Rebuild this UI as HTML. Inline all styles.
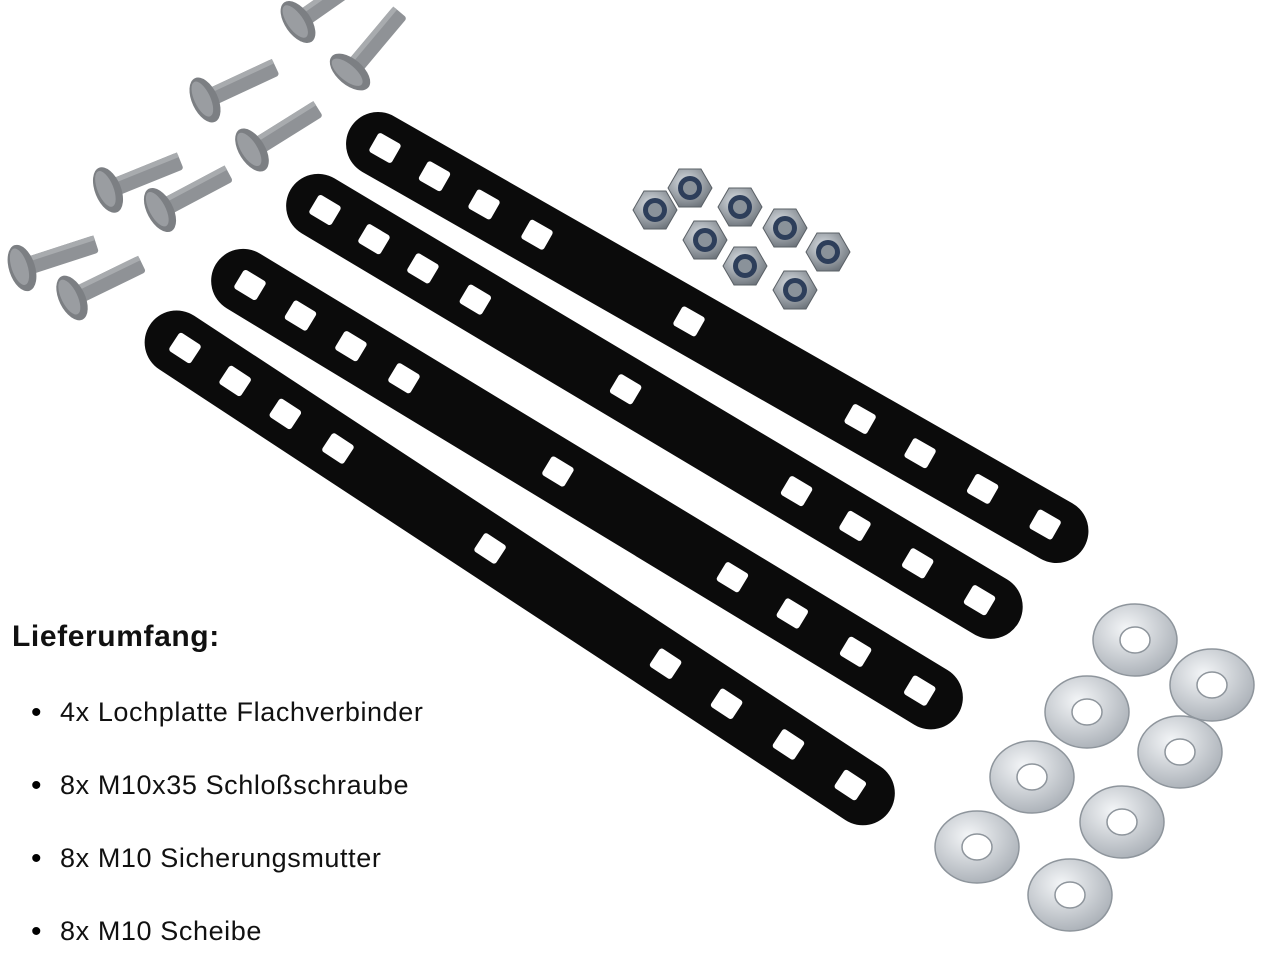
<!DOCTYPE html>
<html><head><meta charset="utf-8"><style>
html,body{margin:0;padding:0;background:#fff;}
body{width:1271px;height:967px;position:relative;overflow:hidden;font-family:"Liberation Sans",Arial,sans-serif;}
svg{position:absolute;left:0;top:0;}
.t{position:absolute;color:#111;font-size:27px;letter-spacing:0.6px;}
.h{position:absolute;left:12px;top:620px;font-size:30px;font-weight:bold;color:#111;letter-spacing:0.6px;}
.b{position:absolute;left:31px;font-size:30px;line-height:30px;}
</style></head><body>
<svg width="1271" height="967" viewBox="0 0 1271 967">
<defs>
<g id="hole"><rect x="-13" y="-11" width="26" height="22" rx="3" fill="#fff"/></g>
<radialGradient id="wg" cx="40%" cy="35%" r="70%"><stop offset="0" stop-color="#f4f6f8"/><stop offset="1" stop-color="#a9afb6"/></radialGradient>
<radialGradient id="ng" cx="40%" cy="35%" r="70%"><stop offset="0" stop-color="#d8dde2"/><stop offset="1" stop-color="#6d747b"/></radialGradient>
<g id="bolt">
<rect x="0" y="-9" width="78" height="18" rx="3" fill="#8f9296"/>
<rect x="0" y="-9" width="78" height="5" fill="#a8abae"/>
<ellipse cx="0" cy="0" rx="13" ry="24" fill="#7c7f83"/>
<ellipse cx="-2" cy="-2" rx="8" ry="19" fill="#9a9da1"/>
</g>
<g id="nut">
<polygon points="22,0 11,19 -11,19 -22,0 -11,-19 11,-19" fill="url(#ng)" stroke="#5a6066" stroke-width="1"/>
<circle r="12" fill="#2d3e5a"/><circle r="7" fill="#8a929a"/>
</g>
<g id="washer">
<ellipse rx="42" ry="36" fill="url(#wg)" stroke="#8e959c" stroke-width="1.5"/>
<ellipse rx="15" ry="13" fill="#fff" stroke="#8e959c" stroke-width="1.5"/>
</g>
</defs>
<use href="#bolt" transform="translate(298,22) rotate(-35)"/>
<use href="#bolt" transform="translate(350,72) rotate(-50)"/>
<use href="#bolt" transform="translate(205,100) rotate(-25)"/>
<use href="#bolt" transform="translate(252,150) rotate(-32)"/>
<use href="#bolt" transform="translate(108,190) rotate(-22)"/>
<use href="#bolt" transform="translate(160,210) rotate(-28)"/>
<use href="#bolt" transform="translate(22,268) rotate(-18)"/>
<use href="#bolt" transform="translate(72,298) rotate(-26)"/>
<use href="#nut" transform="translate(655,210)"/>
<use href="#nut" transform="translate(740,207)"/>
<use href="#nut" transform="translate(785,228)"/>
<use href="#nut" transform="translate(705,240)"/>
<use href="#nut" transform="translate(828,252)"/>
<use href="#nut" transform="translate(745,266)"/>
<use href="#nut" transform="translate(795,290)"/>
<use href="#nut" transform="translate(690,188)"/>
<g transform="translate(385,148) rotate(29.7)">
<rect x="-40" y="-32" width="845" height="64" rx="32" fill="#0b0b0b"/>
<use href="#hole" x="0"/><use href="#hole" x="57"/><use href="#hole" x="114"/><use href="#hole" x="175"/><use href="#hole" x="350"/><use href="#hole" x="547"/><use href="#hole" x="616"/><use href="#hole" x="688"/><use href="#hole" x="760"/>
</g>
<g transform="translate(325,210) rotate(30.8)">
<rect x="-40" y="-32" width="847" height="64" rx="32" fill="#0b0b0b"/>
<use href="#hole" x="0"/><use href="#hole" x="57"/><use href="#hole" x="114"/><use href="#hole" x="175"/><use href="#hole" x="350"/><use href="#hole" x="549"/><use href="#hole" x="617"/><use href="#hole" x="690"/><use href="#hole" x="762"/>
</g>
<g transform="translate(250,285) rotate(31.2)">
<rect x="-40" y="-32" width="868" height="64" rx="32" fill="#0b0b0b"/>
<use href="#hole" x="0"/><use href="#hole" x="59"/><use href="#hole" x="118"/><use href="#hole" x="180"/><use href="#hole" x="360"/><use href="#hole" x="564"/><use href="#hole" x="634"/><use href="#hole" x="708"/><use href="#hole" x="783"/>
</g>
<g transform="translate(185,348) rotate(33.3)">
<rect x="-42" y="-32" width="885" height="64" rx="32" fill="#0b0b0b"/>
<use href="#hole" x="0"/><use href="#hole" x="60"/><use href="#hole" x="120"/><use href="#hole" x="183"/><use href="#hole" x="365"/><use href="#hole" x="575"/><use href="#hole" x="648"/><use href="#hole" x="722"/><use href="#hole" x="796"/>
</g>
<use href="#washer" transform="translate(1135,640)"/>
<use href="#washer" transform="translate(1212,685)"/>
<use href="#washer" transform="translate(1087,712)"/>
<use href="#washer" transform="translate(1180,752)"/>
<use href="#washer" transform="translate(1032,777)"/>
<use href="#washer" transform="translate(1122,822)"/>
<use href="#washer" transform="translate(977,847)"/>
<use href="#washer" transform="translate(1070,895)"/>
</svg>
<div class="h">Lieferumfang:</div>
<div class="b" style="top:698px">•</div><div class="t" style="left:60px;top:697px">4x Lochplatte Flachverbinder</div>
<div class="b" style="top:771px">•</div><div class="t" style="left:60px;top:770px">8x M10x35 Schloßschraube</div>
<div class="b" style="top:844px">•</div><div class="t" style="left:60px;top:843px">8x M10 Sicherungsmutter</div>
<div class="b" style="top:917px">•</div><div class="t" style="left:60px;top:916px">8x M10 Scheibe</div>
</body></html>
